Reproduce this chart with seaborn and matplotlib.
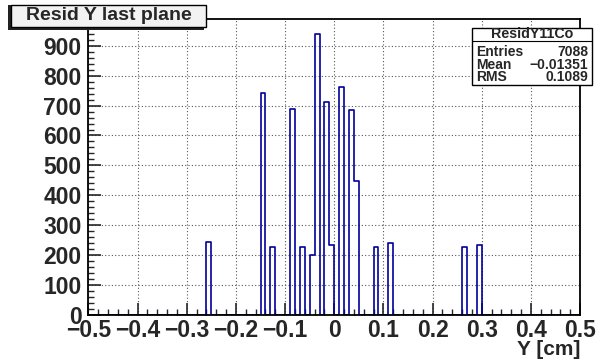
import numpy as np
import pandas as pd
import matplotlib
matplotlib.use("Agg")
import matplotlib.pyplot as plt
import seaborn as sns
from matplotlib.patches import Rectangle
from matplotlib.lines import Line2D
from matplotlib.ticker import MultipleLocator

# histogram contents (bin centres, counts), bins of 0.01 cm
bin_centers = [-0.255, -0.145, -0.125, -0.085, -0.065, -0.045, -0.035, -0.015,
               -0.005, 0.015, 0.035, 0.045, 0.085, 0.115, 0.265, 0.295]
counts = [243, 742, 228, 690, 225, 201, 940, 713,
          232, 763, 684, 447, 225, 239, 227, 234]
stat_names = ["Entries", "Mean", "RMS"]
stat_values = ["7088", "\u22120.01351", "0.1089"]

sns.set_style("ticks")
plt.rcParams["font.family"] = ["Liberation Sans", "DejaVu Sans"]
plt.rcParams["font.weight"] = "bold"

LINE_BLUE = "#000099"

fig = plt.figure(figsize=(6.04, 3.61), dpi=100)
ax = fig.add_axes([0.1465, 0.1283, 0.8138, 0.8191])

df = pd.DataFrame({"y": bin_centers, "n": counts})
sns.histplot(data=df, x="y", weights="n", binwidth=0.01, binrange=(-0.5, 0.5),
             element="step", fill=False, color=LINE_BLUE, linewidth=1.2, ax=ax)

ax.set_xlim(-0.5, 0.5)
ax.set_ylim(0, 990)
ax.xaxis.set_minor_locator(MultipleLocator(0.02))
ax.yaxis.set_major_locator(MultipleLocator(100))
ax.yaxis.set_minor_locator(MultipleLocator(20))
ax.set_xticks(np.round(np.arange(-0.5, 0.51, 0.1), 1))
ax.set_xticklabels(["\u22120.5", "\u22120.4", "\u22120.3", "\u22120.2", "\u22120.1", "0",
                    "0.1", "0.2", "0.3", "0.4", "0.5"])
ax.tick_params(which="major", direction="in", length=9, width=1.2, labelsize=16.5)
ax.tick_params(which="minor", direction="in", length=4, width=1.0)
ax.tick_params(axis="x", pad=3)
ax.tick_params(axis="y", pad=5)
ax.tick_params(top=False, right=False, which="both")
for lbl in ax.get_xticklabels() + ax.get_yticklabels():
    lbl.set_fontweight("bold")
for s in ax.spines.values():
    s.set_visible(True)
    s.set_linewidth(1.3)
    s.set_color("black")
ax.grid(True, which="major", linestyle=(0, (1, 2)), color="#555555", linewidth=0.8)
ax.set_axisbelow(True)
ax.set_ylabel("")
ax.set_xlabel("Y [cm]", fontsize=15, fontweight="bold", ha="right")
ax.xaxis.set_label_coords(1.0, -0.085)

# title box (shadow on the lower left, like ROOT's TPaveText)
fig.patches.append(Rectangle((8 / 604, 1 - 30 / 361), 196 / 604, 25 / 361,
                             transform=fig.transFigure, facecolor="#222222",
                             edgecolor="none", zorder=5))
fig.patches.append(Rectangle((11 / 604, 1 - 27 / 361), 195 / 604, 22 / 361,
                             transform=fig.transFigure, facecolor="#f2f2f2",
                             edgecolor="black", linewidth=1.0, zorder=6))
fig.text(109 / 604, 1 - 16 / 361, "Resid Y last plane", ha="center", va="center",
         fontsize=14, fontweight="bold", zorder=7)

# stats box
x0, x1 = 471.5 / 604, 592 / 604
y0, y1 = 1 - 85 / 361, 1 - 28.3 / 361
fig.patches.append(Rectangle((x0, y0), x1 - x0, y1 - y0, transform=fig.transFigure,
                             facecolor="white", edgecolor="black", linewidth=1.0, zorder=6))
fig.lines.append(Line2D([x0, x1], [1 - 40.7 / 361] * 2, transform=fig.transFigure,
                        color="black", linewidth=0.8, zorder=7))
fig.text((x0 + x1) / 2, 1 - 34.5 / 361, "ResidY11Co", ha="center", va="center",
         fontsize=10.3, fontweight="bold", zorder=8)
for i, (nm, val) in enumerate(zip(stat_names, stat_values)):
    yy = 1 - (52 + 12.7 * i) / 361
    fig.text(476 / 604, yy, nm, ha="left", va="center", fontsize=10,
             fontweight="bold", zorder=8)
    fig.text(588 / 604, yy, val, ha="right", va="center", fontsize=10,
             fontweight="bold", zorder=8)

fig.savefig("out.png", dpi=100)
